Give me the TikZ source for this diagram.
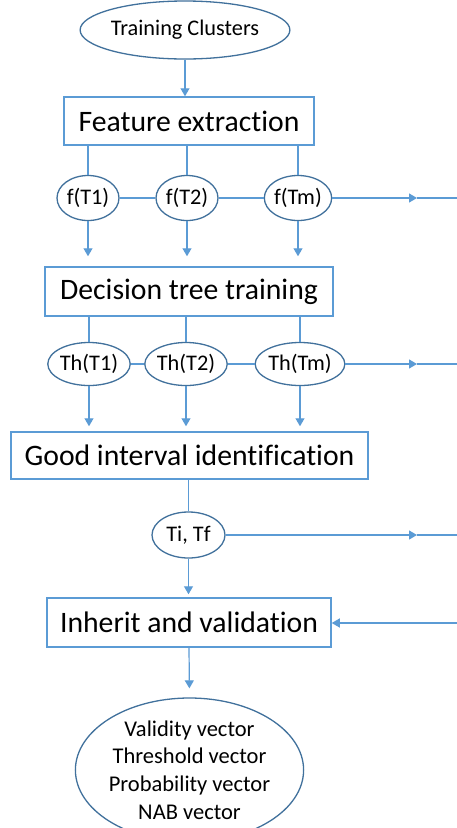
\documentclass[tikz,border=0pt]{standalone}
\usepackage{fontspec}
\setmainfont{Carlito}[Ligatures=CommonOff]
\usetikzlibrary{shapes.geometric,arrows.meta}
\definecolor{boxblue}{HTML}{5B9BD5}
\definecolor{ellblue}{HTML}{41719C}
\begin{document}
\begin{tikzpicture}[x=1pt,y=-1pt,
  box/.style={draw=boxblue,line width=1.5pt,rectangle,inner sep=0pt,font=\fontsize{29.7}{34}\selectfont},
  ell/.style={draw=ellblue,line width=1.3pt,ellipse,inner sep=0pt,font=\fontsize{22.3}{27}\selectfont},
  conn/.style={draw=boxblue,line width=1.2pt},
  arr/.style={conn,-{Triangle[length=8pt,width=9pt]}}]
\useasboundingbox[fill=white] (0,0) rectangle (457,828);

% nodes
\node[ell,minimum width=195pt,minimum height=58pt] (tc) at (185,30) {Training Clusters};
\node[box,minimum width=250pt,minimum height=48pt] (fe) at (189,121) {Feature extraction};
\node[ell,minimum width=62pt,minimum height=45pt] (f1) at (88,198) {f(T1)};
\node[ell,minimum width=62pt,minimum height=45pt] (f2) at (187,198) {f(T2)};
\node[ell,minimum width=62pt,minimum height=45pt] (fm) at (298,198) {f(Tm)};
\node[box,minimum width=288pt,minimum height=49pt] (dt) at (189,291.5) {Decision tree training};
\node[ell,minimum width=81pt,minimum height=43pt] (h1) at (89,364) {Th(T1)};
\node[ell,minimum width=82pt,minimum height=43pt] (h2) at (186,364) {Th(T2)};
\node[ell,minimum width=83pt,minimum height=43pt] (hm) at (300,364) {Th(Tm)};
\node[box,minimum width=357pt,minimum height=47pt] (gi) at (189.5,455.5) {Good interval identification};
\node[ell,minimum width=73pt,minimum height=46pt] (ti) at (188.5,535) {Ti, Tf};
\node[box,minimum width=284pt,minimum height=49pt] (iv) at (189,622.5) {Inherit and validation};
\node[ell,minimum width=221pt,minimum height=144pt,align=center,font=\fontsize{22.5}{27.7}\selectfont] (out) at (189.5,770)
  {Validity vector\\Threshold\ vector\\Probability vector\\NAB vector};

% free-end coordinates
\coordinate (fa) at (417,198);  \coordinate (fb) at (457,198);
\coordinate (ha) at (417,364);  \coordinate (hb) at (457,364);
\coordinate (ta) at (417,535);  \coordinate (tb) at (457,535);
\coordinate (ra) at (457,623);

% connectors
\draw[arr] (tc.south) -- (fe.north -| tc.south);
\foreach \n in {f1,f2,fm} {
  \draw[conn] (fe.south -| \n.north) -- (\n.north);
  \draw[arr,shorten >=10pt] (\n.south) -- (dt.north -| \n.south);
}
\draw[conn] (f1.east) -- (f2.west);
\draw[conn] (f2.east) -- (fm.west);
\draw[arr] (fm.east) -- (fa);
\draw[conn] (fa) -- (fb);

\foreach \n in {h1,h2,hm} {
  \draw[conn] (dt.south -| \n.north) -- (\n.north);
  \draw[arr,shorten >=5pt] (\n.south) -- (gi.north -| \n.south);
}
\draw[conn] (h1.east) -- (h2.west);
\draw[conn] (h2.east) -- (hm.west);
\draw[arr] (hm.east) -- (ha);
\draw[conn] (ha) -- (hb);

\draw[conn] (gi.south -| ti.north) -- (ti.north);
\draw[arr] (ti.east) -- (ta);
\draw[conn] (ta) -- (tb);
\draw[arr,shorten >=3pt] (ti.south) -- (iv.north -| ti.south);
\draw[arr] (ra) -- (iv.east |- ra);
\draw[arr,shorten >=9pt] (iv.south) -- (out.north);
\end{tikzpicture}
\end{document}
